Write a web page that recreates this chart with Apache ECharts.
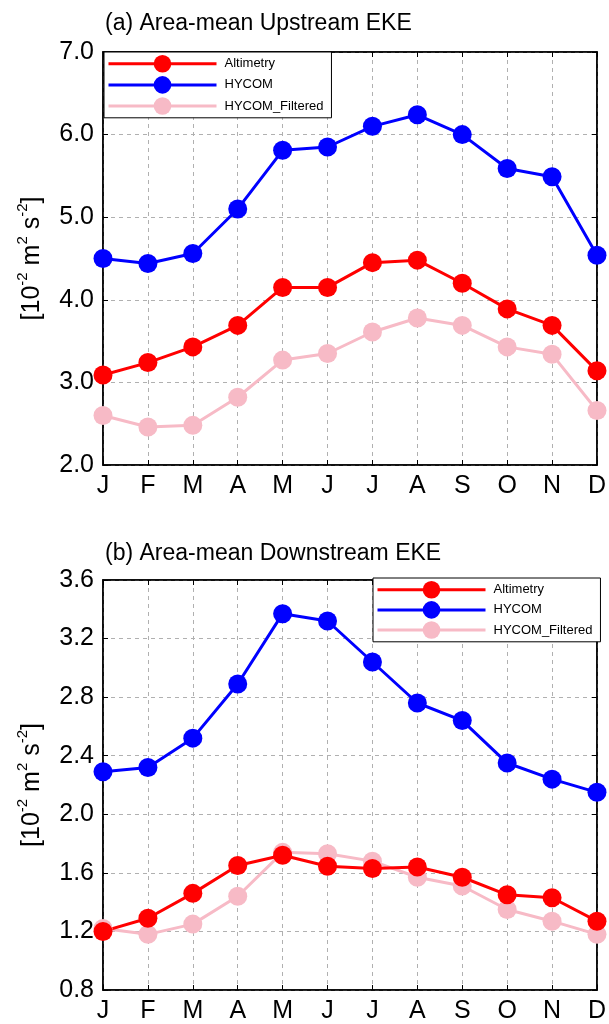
<!DOCTYPE html>
<html><head><meta charset="utf-8">
<script src="https://cdn.jsdelivr.net/npm/echarts@6/dist/echarts.min.js"></script>
<style>html,body{margin:0;padding:0;background:#fff}#c{width:609px;height:1024px}</style>
</head><body><div id="c"></div>
<script>
const months = ['J','F','M','A','M','J','J','A','S','O','N','D'];
const seriesNames = ['Altimetry','HYCOM','HYCOM_Filtered'];
const upAltimetry = [3.09,3.24,3.43,3.69,4.15,4.15,4.45,4.48,4.20,3.89,3.69,3.14];
const upHycom = [4.50,4.44,4.56,5.10,5.81,5.85,6.10,6.24,6.00,5.59,5.49,4.54];
const upFiltered = [2.60,2.46,2.48,2.82,3.27,3.35,3.61,3.78,3.69,3.43,3.34,2.66];
const downAltimetry = [1.20,1.29,1.46,1.65,1.72,1.645,1.63,1.64,1.57,1.45,1.43,1.27];
const downHycom = [2.29,2.32,2.52,2.89,3.37,3.32,3.04,2.76,2.64,2.35,2.24,2.15];
const downFiltered = [1.22,1.18,1.25,1.44,1.74,1.73,1.68,1.57,1.51,1.35,1.27,1.18];
const upTicks = {min:2.0, max:7.0, interval:1.0};
const downTicks = {min:0.8, max:3.6, interval:0.4};
const titles = ['(a) Area-mean Upstream EKE','(b) Area-mean Downstream EKE'];
const colors = {Altimetry:'#ff0000', HYCOM:'#0000ff', HYCOM_Filtered:'#f7bac6'};

const FONT = 'Liberation Sans, Arial, sans-serif';
const chart = echarts.init(document.getElementById('c'), null, {renderer:'canvas'});
const grids = [
  {left:103, right:7, top:52, height:413},
  {left:103, right:7, top:580, height:410}
];
function xAx(gi, pos){
  const main = pos==='bottom';
  return {type:'category', gridIndex:gi, position:pos, data:months, boundaryGap:false,
    axisLine:{show:true, onZero:false, lineStyle:{color:'#000', width:1.5}},
    axisTick:{show:true, inside:true, length:5, lineStyle:{color:'#000'}},
    axisLabel:{show:main, color:'#000', fontSize:25, fontFamily:FONT, margin:9},
    splitLine:{show:main, lineStyle:{color:'#b0b0b0', type:[4,4], width:1}}};
}
function yAx(gi, t, pos){
  const main = pos==='left';
  const o = {type:'value', gridIndex:gi, position:pos, min:t.min, max:t.max, interval:t.interval,
    axisLine:{show:true, lineStyle:{color:'#000', width:1.5}},
    axisTick:{show:true, inside:true, length:5, lineStyle:{color:'#000'}},
    axisLabel:{show:main, color:'#000', fontSize:25, fontFamily:FONT, margin:9, formatter:v=>v.toFixed(1)},
    splitLine:{show:main, lineStyle:{color:'#b0b0b0', type:[4,4], width:1}}};
  if(main){
    o.name = '{t|[10}{s|-2}{t| m}{s|2}{t| s}{s|-2}{t|]}';
    o.nameLocation = 'middle';
    o.nameGap = 58;
    o.nameTextStyle = {rich:{
      t:{fontSize:25, fontFamily:FONT, color:'#000', lineHeight:30, verticalAlign:'bottom'},
      s:{fontSize:15, fontFamily:FONT, color:'#000', lineHeight:30, verticalAlign:'top', padding:[0,0,10,0]}
    }};
  }
  return o;
}
function mk(name, data, gi){
  return {name, type:'line', xAxisIndex:gi*2, yAxisIndex:gi*2, data,
    symbol:'circle', symbolSize:19, color:colors[name],
    lineStyle:{width:3, color:colors[name]}, itemStyle:{color:colors[name]},
    clip:false, animation:false, z:3};
}
function legend(gi, left, top, gap){
  return {show:true, left, top, orient:'vertical', data:seriesNames,
    itemWidth:108, itemHeight:22, itemGap:gap, padding:[3,8,3,3],
    lineStyle:{width:3},
    backgroundColor:'#fff', borderColor:'#000', borderWidth:1, borderRadius:0,
    textStyle:{fontSize:13, fontFamily:FONT, color:'#000', padding:[0,0,0,3]}, selectedMode:false};
}
chart.setOption({
  animation:false,
  backgroundColor:'#fff',
  title:[
    {text:titles[0], left:100, top:7, textStyle:{fontSize:23, fontWeight:'normal', fontFamily:FONT, color:'#000'}},
    {text:titles[1], left:100, top:537, textStyle:{fontSize:23, fontWeight:'normal', fontFamily:FONT, color:'#000'}}
  ],
  grid:grids.map(g=>Object.assign({show:true, borderColor:'#000', borderWidth:1.5, backgroundColor:'transparent'}, g)),
  xAxis:[xAx(0,'bottom'), xAx(0,'top'), xAx(1,'bottom'), xAx(1,'top')],
  yAxis:[yAx(0,upTicks,'left'), yAx(0,upTicks,'right'), yAx(1,downTicks,'left'), yAx(1,downTicks,'right')],
  legend:[legend(0,104,52,3.5), legend(1,373,578,2.5)],
  series:[
    mk('HYCOM_Filtered', upFiltered, 0), mk('Altimetry', upAltimetry, 0), mk('HYCOM', upHycom, 0),
    mk('HYCOM_Filtered', downFiltered, 1), mk('Altimetry', downAltimetry, 1), mk('HYCOM', downHycom, 1)
  ]
});
</script></body></html>
